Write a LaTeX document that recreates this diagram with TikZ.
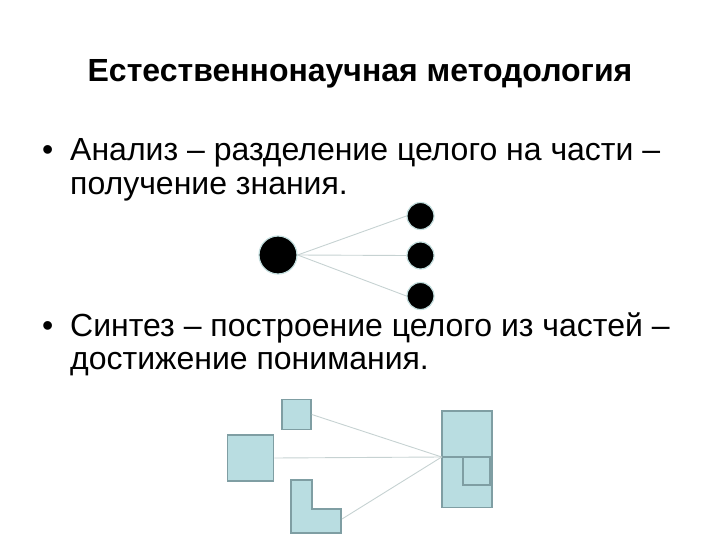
\documentclass[tikz,border=0pt]{standalone}
\usepackage{fontspec}
\setmainfont{Liberation Sans}
\usepackage{xcolor}
\usetikzlibrary{positioning}
\definecolor{partfill}{HTML}{B9DDE1}
\definecolor{partedge}{HTML}{7F9EA3}
\definecolor{linkgray}{HTML}{C6D2D2}
\definecolor{dotedge}{HTML}{C3DEDE}

\begin{document}
\begin{tikzpicture}[x=1pt,y=-1pt,
  bodytext/.style={anchor=base west,inner sep=0pt,font=\fontsize{32}{38}\selectfont},
  bigdot/.style={circle,fill=black,draw=dotedge,line width=1.2pt,minimum size=38pt,inner sep=0pt},
  smalldot/.style={circle,fill=black,draw=dotedge,line width=1.2pt,minimum size=27pt,inner sep=0pt},
  part/.style={rectangle,fill=partfill,draw=partedge,line width=1.6pt,inner sep=0pt},
  link/.style={draw=linkgray,line width=0.9pt}]
\useasboundingbox (0,0) rectangle (720,540);

% Title
\node[anchor=base,inner sep=0pt,font=\bfseries\fontsize{32}{38}\selectfont] (title) at (360,82) {Естественнонаучная методология};

% Analysis
\node[bodytext] (b1) at (42,161) {\textbullet};
\node[bodytext] (analiz1) at (70,161) {Анализ -- разделение целого на части --};
\node[bodytext] (analiz2) at (70,194.5) {получение знания.};

\node[bigdot] (whole) at (278,255) {};
\node[smalldot] (p1) at (420.5,216) {};
\node[smalldot] (p2) at (420.5,255.5) {};
\node[smalldot] (p3) at (420.5,296) {};
\draw[link] (whole.east) -- (p1.west);
\draw[link] (whole.east) -- (p2.west);
\draw[link] (whole.east) -- (p3.west);

% Synthesis
\node[bodytext] (b2) at (42,336) {\textbullet};
\node[bodytext] (sintez1) at (70,336) {Синтез -- построение целого из частей --};
\node[bodytext] (sintez2) at (70,369.5) {достижение понимания.};

\node[part,minimum width=29pt,minimum height=30pt] (sq1) at (296.5,414.5) {};
\node[part,minimum width=46pt,minimum height=46pt] (sq2) at (250.5,458) {};
\draw[part] (291,480) -- (312,480) -- (312,509) -- (341,509) -- (341,533) -- (291,533) -- cycle;
\coordinate (sq3) at (342,519);

\node[part,minimum width=50pt,minimum height=96.6pt] (assembled) at (466.7,459) {};
\draw[partedge,line width=1.6pt] (441.7,457) -- (491.7,457);
\draw[partedge,line width=1.6pt] (463,457) -- (463,485) -- (490,485) -- (490,457);
\coordinate (join) at (441.7,457);

\draw[link] (sq1.east) -- (join);
\draw[link] (sq2.east) -- (join);
\draw[link] (sq3) -- (join);
\end{tikzpicture}
\end{document}
